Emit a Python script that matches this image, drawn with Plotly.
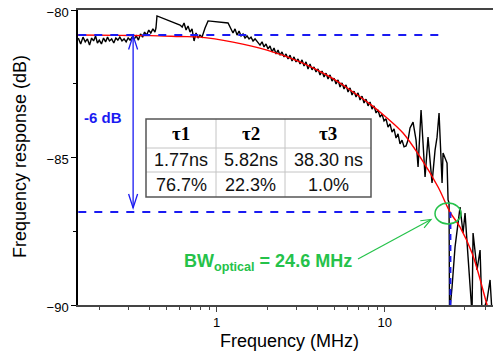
import math
import plotly.graph_objects as go

# ---------------- data ----------------
FREQ_MEAS = [0.150, 0.155, 0.160, 0.165, 0.170, 0.175, 0.180, 0.185, 0.190, 0.195,
             0.200, 0.206, 0.212, 0.218, 0.224, 0.230, 0.237, 0.244, 0.251, 0.258,
             0.265, 0.273, 0.281, 0.289, 0.297, 0.305, 0.314, 0.323, 0.332, 0.342,
             0.352, 0.362, 0.372, 0.383, 0.394, 0.405, 0.417, 0.429, 0.435, 0.441,
             0.605, 0.623, 0.639, 0.657, 0.675, 0.694, 0.713, 0.733, 0.753, 0.774,
             0.795, 0.817, 0.852, 0.888, 1.168, 1.216, 1.250, 1.285, 1.321, 1.358,
             1.396, 1.434, 1.474, 1.515, 1.557, 1.600, 1.645, 1.691, 1.738,
             1.810, 1.861, 1.912, 1.965, 2.020, 2.076, 2.134, 2.193, 2.254, 2.317,
             2.381, 2.447, 2.515, 2.585, 2.657, 2.731, 2.807, 2.885, 2.965, 3.047,
             3.132, 3.219, 3.308, 3.400, 3.495, 3.592, 3.692, 3.794, 3.900, 4.008,
             4.120, 4.234, 4.352, 4.473, 4.597, 4.725, 4.856, 4.991, 5.130, 5.272,
             5.419, 5.569, 5.724, 5.883, 6.047, 6.215, 6.388, 6.565, 6.748, 6.935,
             7.128, 7.326, 7.530, 7.739, 7.954, 8.175, 8.402, 8.636, 8.876, 9.122,
             9.376, 9.636, 9.904, 10.18, 10.46, 10.75, 11.05, 11.36, 11.67, 12.00,
             12.33, 12.67, 13.03, 13.39, 13.76, 14.14, 14.74, 15.36, 15.79, 16.45,
             17.38, 18.10, 19.12, 19.93, 20.48, 21.05, 21.94, 22.24, 23.49, 23.82,
             24.14, 24.30, 25.16, 26.21, 28.07, 29.25, 30.06, 31.32, 33.08, 33.55,
             35.44, 36.93, 37.95, 40.64, 42.35, 43.53, 45.36, 48.57]
DB_MEAS = [-80.95, -81.15, -80.92, -81.08, -80.98, -81.19, -80.95, -81.05, -80.88, -81.12,
           -81.02, -81.15, -80.95, -81.08, -80.92, -81.05, -80.98, -81.12, -80.95, -81.02,
           -80.92, -81.05, -80.98, -81.08, -80.95, -81.02, -80.92, -80.98, -80.88, -81.02,
           -80.81, -80.92, -80.75, -80.85, -80.68, -80.78, -80.64, -80.75, -80.61, -80.20,
           -80.51, -80.58, -80.44, -80.68, -80.54, -80.75, -80.64, -81.05, -80.78, -80.95,
           -80.85, -80.92, -80.61, -80.37, -80.44, -80.68, -80.78, -80.64, -80.85, -80.71,
           -80.88, -80.81, -80.95, -80.88, -80.98, -80.92, -81.05, -80.98, -81.08,
           -81.19, -81.08, -81.25, -81.15, -81.32, -81.22, -81.42, -81.29, -81.49, -81.36,
           -81.53, -81.42, -81.59, -81.49, -81.66, -81.53, -81.73, -81.59, -81.76, -81.66,
           -81.83, -81.69, -81.90, -81.76, -82.00, -81.83, -82.03, -81.93, -82.10, -82.00,
           -82.20, -82.07, -82.27, -82.14, -82.34, -82.20, -82.41, -82.31, -82.51, -82.37,
           -82.61, -82.47, -82.68, -82.54, -82.78, -82.64, -82.88, -82.75, -82.95, -82.81,
           -83.05, -82.92, -83.15, -83.02, -83.25, -83.12, -83.36, -83.25, -83.49, -83.39,
           -83.63, -83.53, -83.76, -83.69, -83.97, -83.86, -84.14, -84.03, -84.34, -84.20,
           -84.54, -84.41, -84.64, -84.61, -84.41, -84.00, -83.80, -84.41, -85.32, -83.39,
           -85.66, -84.31, -85.86, -84.75, -84.31, -83.49, -85.86, -84.85, -85.19, -86.44,
           -86.54, -90.30, -89.39, -88.03, -86.68, -87.56, -86.88, -88.37, -90.30, -87.56,
           -88.81, -88.14, -90.30, -89.83, -89.15, -90.30, -89.83, -89.59]

FREQ_FIT = [0.149, 0.266, 0.401, 0.605, 0.795, 1.250, 1.992, 3.132, 4.725, 6.477,
            8.178, 10.32, 12.85, 16.23, 20.77, 24.47, 28.07, 33.08, 40.64, 45.36]
DB_FIT = [-80.85, -80.86, -80.87, -80.90, -80.92, -81.09, -81.36, -81.76, -82.27, -82.78,
          -83.19, -83.66, -84.17, -84.98, -86.00, -86.85, -87.36, -88.24, -90.00, -90.95]

REF_DB = -80.85          # upper dashed reference level
CUTOFF_DB = -86.85       # -6 dB level
BW_MHZ = 24.6            # optical bandwidth
ARROW_F = 0.318          # position of the -6 dB arrow
REF_LINE_END = 22.5
CUT_LINE_END = 18.6

TAU_HEADERS = ["τ1", "τ2", "τ3"]
TAU_VALUES = ["1.77ns", "5.82ns", "38.30 ns"]
TAU_WEIGHTS = ["76.7%", "22.3%", "1.0%"]

X_TICKS = [1, 10]
X_TICKTEXT = ["1", "10"]
X_MINOR = [0.2, 0.3, 0.4, 0.5, 0.6, 0.7, 0.8, 0.9, 2, 3, 4, 5, 6, 7, 8, 9, 20, 30, 40]
Y_TICKS = [-80, -85, -90]
Y_MINOR = [-82.5, -87.5]

# ---------------- layout helpers ----------------
# the page adds an 8px body margin; the figure is shrunk and shifted to compensate
OFF = 8
W, H = 501 - OFF, 352 - OFF
ML, MR, MT, MB = 78 - OFF, 0, 10 - OFF, 47
PW, PH = W - ML - MR, H - MT - MB


def px(x):
    """reference-image pixel x -> paper coordinate"""
    return (x - OFF - ML) / PW


def py(y):
    """reference-image pixel y -> paper coordinate"""
    return (H - MB - (y - OFF)) / PH


BLUE = "#1a1af2"
GREEN = "#25c24a"
SANS = "Liberation Sans, Arial, sans-serif"
SERIF = "Liberation Serif, Times New Roman, serif"

fig = go.Figure()
fig.add_trace(go.Scatter(x=FREQ_MEAS, y=DB_MEAS, mode="lines",
                         line=dict(color="black", width=1.4), hoverinfo="skip"))
fig.add_trace(go.Scatter(x=FREQ_FIT, y=DB_FIT, mode="lines", line_shape="spline",
                         line=dict(color="#ff0000", width=1.4), hoverinfo="skip"))
fig.add_trace(go.Scatter(x=[FREQ_MEAS[0], REF_LINE_END], y=[REF_DB, REF_DB], mode="lines",
                         line=dict(color=BLUE, width=2, dash="8px,8px"), hoverinfo="skip"))
fig.add_trace(go.Scatter(x=[FREQ_MEAS[0], CUT_LINE_END], y=[CUTOFF_DB, CUTOFF_DB], mode="lines",
                         line=dict(color=BLUE, width=2, dash="8px,8px"), hoverinfo="skip"))
fig.add_trace(go.Scatter(x=[BW_MHZ, BW_MHZ], y=[CUTOFF_DB, -90], mode="lines",
                         line=dict(color=BLUE, width=2, dash="6px,5px"), hoverinfo="skip"))
fig.add_trace(go.Scatter(x=[ARROW_F, ARROW_F], y=[REF_DB, CUTOFF_DB + 0.15], mode="lines",
                         line=dict(color=BLUE, width=1.3), hoverinfo="skip"))

shapes = []


def vhead(tipx, tipy, dx, dy, length, half, color, width):
    n = math.hypot(dx, dy)
    ux, uy = dx / n, dy / n
    bx, by = tipx - ux * length, tipy - uy * length
    a = (bx - uy * half, by + ux * half)
    b = (bx + uy * half, by - ux * half)
    path = "M {} {} L {} {} L {} {}".format(px(a[0]), py(a[1]), px(tipx), py(tipy),
                                            px(b[0]), py(b[1]))
    return dict(type="path", path=path, xref="paper", yref="paper",
                line=dict(color=color, width=width))


# arrow heads of the -6 dB arrow (open V)
shapes.append(vhead(133.1, 35.5, 0, -1, 14, 4.5, BLUE, 1.3))
shapes.append(vhead(133.1, 208, 0, 1, 14, 4.5, BLUE, 1.3))

# green arrow to the cutoff point
gx0, gy0, gx1, gy1 = 358, 259, 431, 219.5
shapes.append(dict(type="line", xref="paper", yref="paper", x0=px(gx0), y0=py(gy0),
                   x1=px(gx1), y1=py(gy1), line=dict(color=GREEN, width=1.2)))
shapes.append(vhead(gx1, gy1, gx1 - gx0, gy1 - gy0, 10, 4, GREEN, 1.2))
# green ellipse
shapes.append(dict(type="circle", xref="paper", yref="paper", x0=px(435), x1=px(461),
                   y0=py(203), y1=py(224), line=dict(color=GREEN, width=1.5)))

# table
tx = [146, 216, 285, 371]
ty = [119, 148, 172, 197]
shapes.append(dict(type="rect", xref="paper", yref="paper", x0=px(tx[0]), x1=px(tx[-1]),
                   y0=py(ty[0]), y1=py(ty[-1]), fillcolor="white", line=dict(width=0)))
for xv in tx[1:-1]:
    shapes.append(dict(type="line", xref="paper", yref="paper", x0=px(xv), x1=px(xv),
                       y0=py(ty[0]), y1=py(ty[-1]), line=dict(color="#c4c4c4", width=1)))
for yv in ty[1:-1]:
    shapes.append(dict(type="line", xref="paper", yref="paper", x0=px(tx[0]), x1=px(tx[-1]),
                       y0=py(yv), y1=py(yv), line=dict(color="#c4c4c4", width=1)))
shapes.append(dict(type="rect", xref="paper", yref="paper", x0=px(tx[0]), x1=px(tx[-1]),
                   y0=py(ty[0]), y1=py(ty[-1]), line=dict(color="#555555", width=1.5)))

annotations = []
rows = [TAU_HEADERS, TAU_VALUES, TAU_WEIGHTS]
for r, row in enumerate(rows):
    yc = (ty[r] + ty[r + 1]) / 2
    for c, txt in enumerate(row):
        xc = (tx[c] + tx[c + 1]) / 2
        if r == 0:
            font = dict(family=SERIF, size=19, color="black")
            txt = "<b>" + txt + "</b>"
        else:
            font = dict(family=SANS, size=18, color="#111111")
        annotations.append(dict(x=px(xc), y=py(yc), xref="paper", yref="paper", text=txt,
                                showarrow=False, font=font, xanchor="center", yanchor="middle"))

annotations.append(dict(x=px(82), y=py(117), xref="paper", yref="paper", text="<b>-6 dB</b>",
                        showarrow=False, xanchor="left", yanchor="middle",
                        font=dict(family=SANS, size=15, color=BLUE)))
annotations.append(dict(x=px(182), y=py(262), xref="paper", yref="paper",
                        text="<b>BW<sub>optical</sub> = 24.6 MHz</b>",
                        showarrow=False, xanchor="left", yanchor="middle",
                        font=dict(family=SANS, size=18, color=GREEN)))
# axis titles
annotations.append(dict(x=px(289.5), y=py(341), xref="paper", yref="paper",
                        text="Frequency (MHz)", showarrow=False, xanchor="center",
                        yanchor="middle", font=dict(family=SANS, size=18, color="black")))
annotations.append(dict(x=px(20), y=py(157), xref="paper", yref="paper",
                        text="Frequency response (dB)", showarrow=False, textangle=-90,
                        xanchor="center", yanchor="middle",
                        font=dict(family=SANS, size=18, color="black")))

fig.update_layout(
    width=W, height=H, margin=dict(l=ML, r=MR, t=MT, b=MB, autoexpand=False),
    paper_bgcolor="white", plot_bgcolor="white", showlegend=False,
    shapes=shapes, annotations=annotations,
    font=dict(family=SANS, size=13, color="black"),
)
fig.update_xaxes(type="log", range=[math.log10(0.1494), math.log10(49.2)],
                 automargin=False,
                 showline=True, linecolor="#444444", linewidth=1.5, mirror=True,
                 showgrid=False, zeroline=False,
                 ticks="outside", ticklen=5, tickwidth=1.2, tickcolor="#444444",
                 tickvals=X_TICKS, ticktext=X_TICKTEXT, tickfont=dict(size=13),
                 minor=dict(ticks="outside", ticklen=3, tickwidth=1, tickcolor="#444444",
                            tickvals=X_MINOR, showgrid=False))
fig.update_yaxes(range=[-90, -80], automargin=False, showline=True, linecolor="black",
                 linewidth=1.5, mirror=True, showgrid=False, zeroline=False,
                 ticks="outside", ticklen=5, tickwidth=1.2, tickcolor="black",
                 tickvals=Y_TICKS, tickfont=dict(size=13), ticklabeloverflow="allow",
                 ticklabelshift=2,
                 minor=dict(ticks="outside", ticklen=3, tickwidth=1, tickcolor="black",
                            tickvals=Y_MINOR, showgrid=False))

fig.write_html("out.html")
